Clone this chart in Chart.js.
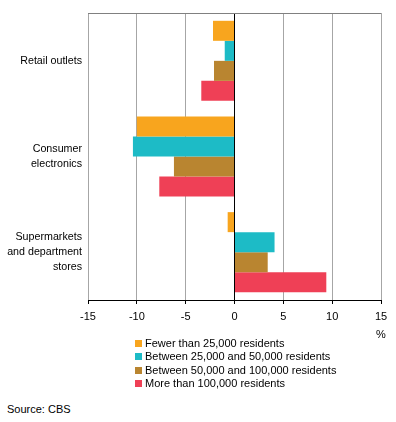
<!DOCTYPE html>
<html><head><meta charset="utf-8">
<script src="https://cdn.jsdelivr.net/npm/chart.js@4"></script>
<style>
html,body{margin:0;padding:0;background:#fff;}
#wrap{position:relative;width:396px;height:422px;font-family:"Liberation Sans",Arial,sans-serif;font-size:11px;color:#000;}
#c{position:absolute;left:0;top:0;}
#legend{position:absolute;left:135px;top:337px;}
.li{height:13.4px;line-height:13.4px;white-space:nowrap;}
.sw{display:inline-block;width:7px;height:7px;margin-right:3px;vertical-align:0px;}
#pct{position:absolute;left:376px;top:328px;}
#src{position:absolute;left:7px;top:403px;}
</style></head>
<body><div id="wrap">
<canvas id="c" width="396" height="330"></canvas>
<div id="pct">%</div>
<div id="legend"></div>
<div id="src">Source: CBS</div>
</div>
<script>
const categories = [["Retail outlets"], ["Consumer", "electronics"], ["Supermarkets", "and department", "stores"]];
const seriesNames = ["Fewer than 25,000 residents", "Between 25,000 and 50,000 residents", "Between 50,000 and 100,000 residents", "More than 100,000 residents"];
const fewer25k = [-2.2, -10.0, -0.7];
const between25k50k = [-1.0, -10.4, 4.1];
const between50k100k = [-2.1, -6.2, 3.4];
const more100k = [-3.4, -7.7, 9.4];
const xTicks = [-15, -10, -5, 0, 5, 10, 15];
const colors = ["#F8A51E", "#1DBBC6", "#B98530", "#EF4056"];

const seriesValues = [fewer25k, between25k50k, between50k100k, more100k];
const datasets = seriesNames.map((n, i) => ({
  label: n, data: seriesValues[i], backgroundColor: colors[i],
  borderWidth: 0, barPercentage: 1.0, categoryPercentage: 0.837
}));

const topLine = {
  id: 'topLine',
  afterDraw(chart) {
    const a = chart.chartArea, ctx = chart.ctx;
    ctx.save();
    ctx.strokeStyle = '#808080'; ctx.lineWidth = 1;
    ctx.beginPath(); ctx.moveTo(a.left, Math.round(a.top) + 0.5); ctx.lineTo(a.right, Math.round(a.top) + 0.5); ctx.stroke();
    ctx.restore();
  }
};

new Chart(document.getElementById('c'), {
  type: 'bar',
  data: { labels: categories, datasets },
  options: {
    indexAxis: 'y', responsive: false, animation: false,
    layout: { padding: { left: 0, right: 15, top: 13, bottom: 0 } },
    plugins: { legend: { display: false }, tooltip: { enabled: false } },
    scales: {
      x: {
        min: -15, max: 15,
        afterBuildTicks: s => { s.ticks = xTicks.map(v => ({ value: v })); },
        afterFit: s => { s.height = 30; s.paddingLeft = 0; s.paddingRight = 0; },
        grid: {
          color: ctx => (ctx.tick && ctx.tick.value === 0) ? '#000' : '#a6a6a6',
          tickColor: '#000', tickLength: 4, lineWidth: 1
        },
        border: { color: '#000', width: 1 },
        ticks: { color: '#000', font: { family: '"Liberation Sans", Arial, sans-serif', size: 11 }, padding: 6, maxRotation: 0 }
      },
      y: {
        afterFit: s => { s.width = 88; s.paddingTop = 0; s.paddingBottom = 0; },
        grid: { display: false, drawTicks: false },
        border: { display: false },
        ticks: { color: '#000', font: { family: '"Liberation Sans", Arial, sans-serif', size: 10.7, lineHeight: 1.4 }, padding: 6 }
      }
    }
  },
  plugins: [topLine]
});

const lg = document.getElementById('legend');
seriesNames.forEach((n, i) => {
  const d = document.createElement('div'); d.className = 'li';
  const s = document.createElement('span'); s.className = 'sw'; s.style.background = colors[i];
  d.appendChild(s); d.appendChild(document.createTextNode(n)); lg.appendChild(d);
});
</script>
</body></html>
